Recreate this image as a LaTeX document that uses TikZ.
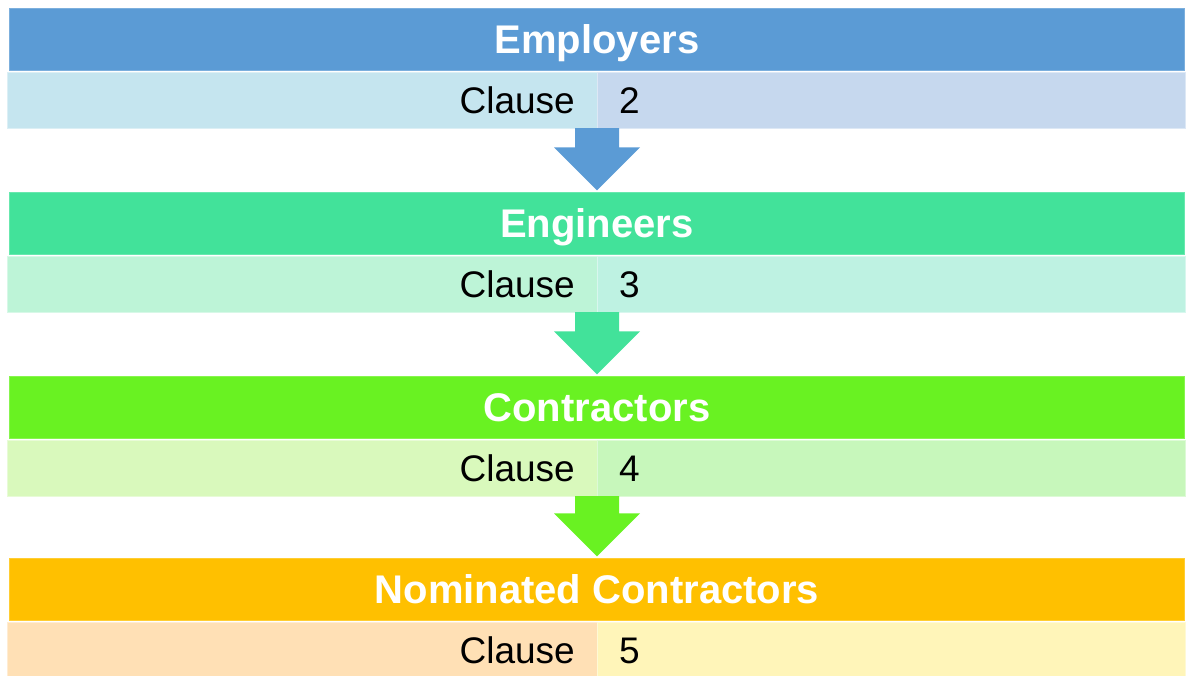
\documentclass[tikz,border=0pt]{standalone}
\usepackage{fontspec}
\setmainfont{Liberation Sans}
\usetikzlibrary{positioning}
\definecolor{emphead}{HTML}{5B9BD5}
\definecolor{empleft}{HTML}{C5E5EF}
\definecolor{empright}{HTML}{C6D8EE}
\definecolor{enghead}{HTML}{42E29A}
\definecolor{engleft}{HTML}{BDF4D7}
\definecolor{engright}{HTML}{BEF2E2}
\definecolor{conhead}{HTML}{69F222}
\definecolor{conleft}{HTML}{D9F9BC}
\definecolor{conright}{HTML}{C7F7BB}
\definecolor{nomhead}{HTML}{FFC000}
\definecolor{nomleft}{HTML}{FFE0B5}
\definecolor{nomright}{HTML}{FFF5B9}

\begin{document}
\begin{tikzpicture}[
  x=1pt,y=1pt,
  head/.style={
    rectangle,
    fill=#1,
    draw=#1!80!white,
    minimum width=1175pt,
    minimum height=62pt,
    inner sep=0pt,
    text=white,
    text height=28.6pt,
    text depth=0pt,
    font=\fontsize{40}{40}\selectfont\bfseries
  },
  cellleft/.style={
    rectangle,
    fill=#1,
    draw=#1!60!white,
    minimum width=590pt,
    minimum height=56pt,
    inner xsep=22pt,
    inner ysep=0pt,
    text width=546pt,
    align=right,
    text height=26.5pt,
    text depth=0pt,
    font=\fontsize{37}{37}\selectfont
  },
  cellright/.style={
    cellleft=#1,
    minimum width=588pt,
    text width=544pt,
    align=left
  }
  ]
  \useasboundingbox (0,0) rectangle (1186,675);

  % four bands, top to bottom
  \node[head=emphead] (h1) at (597,635.5) {Employers};
  \node[cellleft=empleft, below left=1pt and 0pt of h1.south] (l1) {Clause};
  \node[cellright=empright, below right=1pt and 0pt of h1.south] (r1) {2};

  \node[head=enghead] (h2) at (597,451.5) {Engineers};
  \node[cellleft=engleft, below left=1pt and 0pt of h2.south] (l2) {Clause};
  \node[cellright=engright, below right=1pt and 0pt of h2.south] (r2) {3};

  \node[head=conhead] (h3) at (597,267.5) {Contractors};
  \node[cellleft=conleft, below left=1pt and 0pt of h3.south] (l3) {Clause};
  \node[cellright=conright, below right=1pt and 0pt of h3.south] (r3) {4};

  \node[head=nomhead] (h4) at (597,85.5) {Nominated Contractors};
  \node[cellleft=nomleft, below left=1pt and 0pt of h4.south] (l4) {Clause};
  \node[cellright=nomright, below right=1pt and 0pt of h4.south] (r4) {5};

  % block arrows between the bands
  \fill[emphead] (l1.south east) +(-22,0) -- +(22,0)
    -- ([shift={(22,45)}]h2.north) -- +(21,0) -- +(-22,-43) -- +(-65,0) -- +(-44,0) -- cycle;
  \fill[enghead] (l2.south east) +(-22,0) -- +(22,0)
    -- ([shift={(22,45)}]h3.north) -- +(21,0) -- +(-22,-43) -- +(-65,0) -- +(-44,0) -- cycle;
  \fill[conhead] (l3.south east) +(-22,0) -- +(22,0)
    -- ([shift={(22,45)}]h4.north) -- +(21,0) -- +(-22,-43) -- +(-65,0) -- +(-44,0) -- cycle;
\end{tikzpicture}
\end{document}
